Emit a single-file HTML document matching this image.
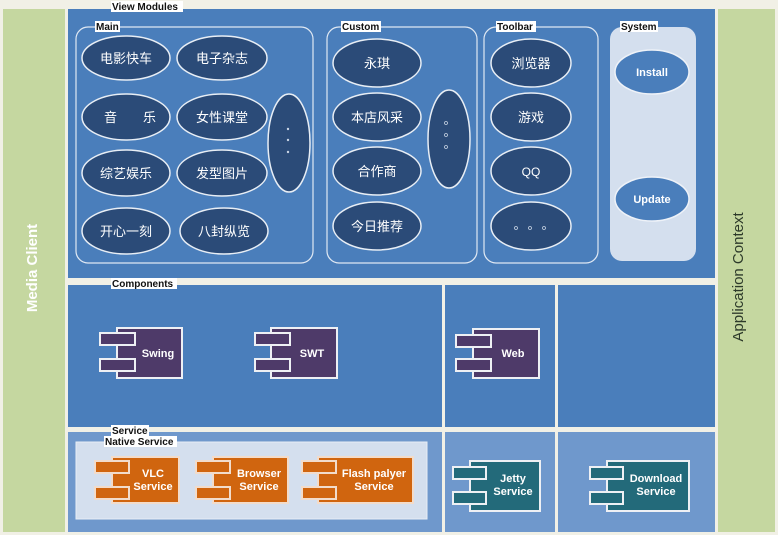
<!DOCTYPE html>
<html><head><meta charset="utf-8"><style>
html,body{margin:0;padding:0;background:#f1f0e6;}
svg{display:block;}
.cn{font-family:"Liberation Sans","Noto Sans CJK SC",sans-serif;font-size:13px;fill:#fff;}
.b{font-family:"Liberation Sans",sans-serif;font-weight:bold;font-size:11px;fill:#fff;}
.lbl{font-family:"Liberation Sans",sans-serif;font-weight:bold;font-size:10px;fill:#111;}
</style></head><body>
<svg width="778" height="535" viewBox="0 0 778 535" xmlns="http://www.w3.org/2000/svg">
<rect x="0" y="0" width="778" height="535" fill="#f1f0e6"/>
<rect x="3" y="9" width="62" height="523" fill="#c5d7a0"/>
<rect x="718" y="9" width="57" height="523" fill="#c5d7a0"/>
<text transform="translate(37,268) rotate(-90)" text-anchor="middle" font-family="Liberation Sans,sans-serif" font-weight="bold" font-size="15" fill="#fff">Media Client</text>
<text transform="translate(743,277) rotate(-90)" text-anchor="middle" font-family="Liberation Sans,sans-serif" font-size="15" fill="#2d3a2a">Application Context</text>

<rect x="68" y="9" width="647" height="269" fill="#4a7ebb"/>
<rect x="68" y="285" width="374" height="142" fill="#4a7ebb"/>
<rect x="445" y="285" width="110" height="142" fill="#4a7ebb"/>
<rect x="558" y="285" width="157" height="142" fill="#4a7ebb"/>
<rect x="68" y="432" width="374" height="100" fill="#6f98cc"/>
<rect x="445" y="432" width="110" height="100" fill="#6f98cc"/>
<rect x="558" y="432" width="157" height="100" fill="#6f98cc"/>
<rect x="76" y="442" width="351" height="77" fill="#d4dfee" stroke="#e8eef5" stroke-width="1"/>

<rect x="76" y="27" width="237" height="236" rx="12" fill="none" stroke="#dfe8f3" stroke-width="1.2"/>
<rect x="327" y="27" width="150" height="236" rx="12" fill="none" stroke="#dfe8f3" stroke-width="1.2"/>
<rect x="484" y="27" width="114" height="236" rx="12" fill="none" stroke="#dfe8f3" stroke-width="1.2"/>
<rect x="610" y="27" width="86" height="234" rx="12" fill="#d4dfee"/>

<rect x="111" y="1" width="72" height="11" fill="#fff"/><text x="112" y="10" class="lbl">View Modules</text>
<rect x="95" y="21" width="25" height="11" fill="#fff"/><text x="96" y="30" class="lbl">Main</text>
<rect x="341" y="21" width="40" height="11" fill="#fff"/><text x="342" y="30" class="lbl">Custom</text>
<rect x="496" y="21" width="40" height="11" fill="#fff"/><text x="497" y="30" class="lbl">Toolbar</text>
<rect x="620" y="21" width="38" height="11" fill="#fff"/><text x="621" y="30" class="lbl">System</text>
<rect x="111" y="278" width="66" height="11" fill="#fff"/><text x="112" y="287" class="lbl">Components</text>
<rect x="111" y="425" width="38" height="11" fill="#fff"/><text x="112" y="434" class="lbl">Service</text>
<rect x="104" y="436" width="73" height="11" fill="#fff"/><text x="105" y="445" class="lbl">Native Service</text>

<g fill="#2b4b78" stroke="#e8eef5" stroke-width="1.5">
<ellipse cx="126" cy="58" rx="44" ry="22"/><ellipse cx="222" cy="58" rx="45" ry="22"/>
<ellipse cx="126" cy="117" rx="44" ry="23"/><ellipse cx="222" cy="117" rx="45" ry="23"/>
<ellipse cx="126" cy="173" rx="44" ry="23"/><ellipse cx="222" cy="173" rx="45" ry="23"/>
<ellipse cx="126" cy="231" rx="44" ry="23"/><ellipse cx="224" cy="231" rx="44" ry="23"/>
<ellipse cx="289" cy="143" rx="21" ry="49"/>
<ellipse cx="377" cy="63" rx="44" ry="24"/><ellipse cx="377" cy="117" rx="44" ry="24"/>
<ellipse cx="377" cy="171" rx="44" ry="24"/><ellipse cx="377" cy="226" rx="44" ry="24"/>
<ellipse cx="449" cy="139" rx="21" ry="49"/>
<ellipse cx="531" cy="63" rx="40" ry="24"/><ellipse cx="531" cy="117" rx="40" ry="24"/>
<ellipse cx="531" cy="171" rx="40" ry="24"/><ellipse cx="531" cy="226" rx="40" ry="24"/>
</g>
<g fill="#4a7ebb" stroke="#eef2f8" stroke-width="1.5">
<ellipse cx="652" cy="72" rx="37" ry="22"/><ellipse cx="652" cy="199" rx="37" ry="22"/>
</g>
<g class="cn" text-anchor="middle">
<text x="126" y="63">电影快车</text><text x="222" y="63">电子杂志</text>
<text x="130" y="122">音　　乐</text><text x="222" y="122">女性课堂</text>
<text x="126" y="178">综艺娱乐</text><text x="222" y="178">发型图片</text>
<text x="126" y="236">开心一刻</text><text x="224" y="236">八封纵览</text>
<text x="377" y="68">永琪</text><text x="377" y="122">本店风采</text>
<text x="377" y="176">合作商</text><text x="377" y="231">今日推荐</text>
<text x="531" y="68">浏览器</text><text x="531" y="122">游戏</text>
<text x="531" y="176" style="font-size:12px">QQ</text>
</g>
<g fill="#c8d4e4">
<circle cx="288" cy="129" r="1.2"/><circle cx="288" cy="140" r="1.2"/><circle cx="288" cy="152" r="1.2"/>
</g>
<g fill="none" stroke="#c8d4e4" stroke-width="0.8">
<circle cx="446" cy="123" r="1.5"/><circle cx="446" cy="135" r="1.5"/><circle cx="446" cy="147" r="1.5"/>
<circle cx="516" cy="228" r="1.5"/><circle cx="530" cy="228" r="1.5"/><circle cx="544" cy="228" r="1.5"/>
</g>
<g class="b" text-anchor="middle">
<text x="652" y="76">Install</text><text x="652" y="203">Update</text>
</g>

<g stroke="#eef0f4" stroke-width="2">
<g fill="#4e3a69">
<rect x="117" y="328" width="65" height="50"/><rect x="100" y="333" width="35" height="12"/><rect x="100" y="359" width="35" height="12"/>
<rect x="271" y="328" width="66" height="50"/><rect x="255" y="333" width="35" height="12"/><rect x="255" y="359" width="35" height="12"/>
<rect x="473" y="329" width="66" height="49"/><rect x="456" y="335" width="35" height="12"/><rect x="456" y="359" width="35" height="12"/>
</g>
<g fill="#d0650f" stroke="#f2dccb">
<rect x="112" y="457" width="67" height="46"/><rect x="95" y="461" width="34" height="12"/><rect x="95" y="487" width="34" height="12"/>
<rect x="213" y="457" width="75" height="46"/><rect x="196" y="461" width="34" height="12"/><rect x="196" y="487" width="34" height="12"/>
<rect x="318" y="457" width="95" height="46"/><rect x="302" y="461" width="34" height="12"/><rect x="302" y="487" width="34" height="12"/>
</g>
<g fill="#236a7a">
<rect x="470" y="461" width="70" height="50"/><rect x="453" y="467" width="33" height="12"/><rect x="453" y="492" width="33" height="12"/>
<rect x="607" y="461" width="82" height="50"/><rect x="590" y="467" width="33" height="12"/><rect x="590" y="492" width="33" height="12"/>
</g>
</g>
<g class="b" text-anchor="middle">
<text x="158" y="357">Swing</text><text x="312" y="357">SWT</text><text x="513" y="357">Web</text>
<text x="153" y="477">VLC</text><text x="153" y="490">Service</text>
<text x="259" y="477">Browser</text><text x="259" y="490">Service</text>
<text x="374" y="477">Flash palyer</text><text x="374" y="490">Service</text>
<text x="513" y="482">Jetty</text><text x="513" y="495">Service</text>
<text x="656" y="482">Download</text><text x="656" y="495">Service</text>
</g>
</svg>
</body></html>
